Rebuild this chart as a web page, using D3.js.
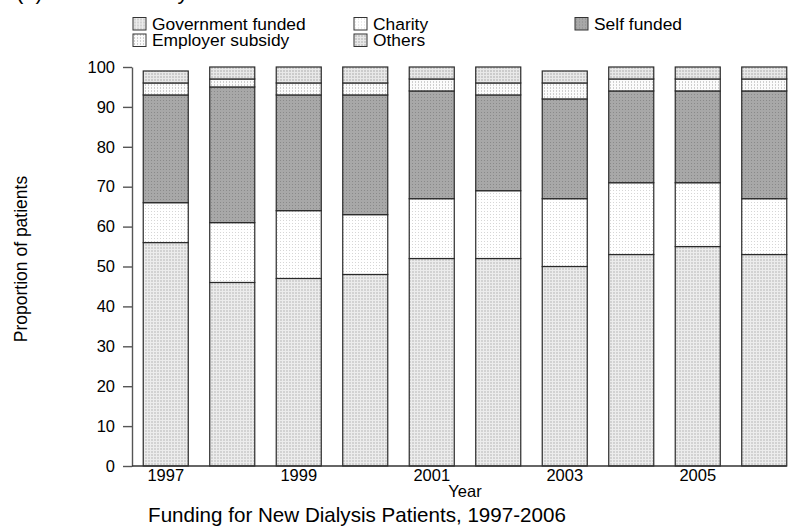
<!DOCTYPE html>
<html>
<head>
    <meta charset="utf-8">
    <title>Funding for New Dialysis Patients</title>
    <script src="https://d3js.org/d3.v7.min.js"></script>
    <style>
        body { margin: 0; background: #fff; }
        svg { display: block; font-family: "Liberation Sans", Arial, sans-serif; }
        .axis text { font-size: 16.5px; fill: #000; }
        .axis path, .axis line { stroke: #555; stroke-width: 1.4; }
        .legend text { font-size: 17.4px; }
        .bar rect { stroke: #2a2a2a; stroke-width: 1.2; }
    </style>
</head>
<body>
<script>
    // values
    var years = ["1997", "1998", "1999", "2000", "2001", "2002", "2003", "2004", "2005", "2006"];
    var government = [56, 46, 47, 48, 52, 52, 50, 53, 55, 53];
    var charity    = [10, 15, 17, 15, 15, 17, 17, 18, 16, 14];
    var selfFunded = [27, 34, 29, 30, 27, 24, 25, 23, 23, 27];
    var employer   = [3, 2, 3, 3, 3, 3, 4, 3, 3, 3];
    var others     = [3, 3, 4, 4, 3, 4, 3, 3, 3, 3];
    var yearLabels = ["1997", "1999", "2001", "2003", "2005"];
    var yTicks = [0, 10, 20, 30, 40, 50, 60, 70, 80, 90, 100];

    // stack order bottom -> top
    var keys = ["gov", "charity", "self", "employer", "others"];
    var names = {gov: "Government funded", charity: "Charity", self: "Self funded",
                 employer: "Employer subsidy", others: "Others"};
    // legend is filled column by column
    var legendOrder = ["gov", "employer", "charity", "others", "self"];

    var rows = years.map(function(y, i) {
        return {year: y, gov: government[i], charity: charity[i], self: selfFunded[i],
                employer: employer[i], others: others[i]};
    });

    var width = 790, height = 527;
    var svg = d3.select("body").append("svg")
        .attr("width", width)
        .attr("height", height);

    // fill patterns to imitate the printed textures
    var defs = svg.append("defs");
    function pattern(id, bg, draw) {
        var p = defs.append("pattern").attr("id", id)
            .attr("patternUnits", "userSpaceOnUse")
            .attr("width", 3).attr("height", 3);
        p.append("rect").attr("width", 3).attr("height", 3).attr("fill", bg);
        draw(p);
    }
    pattern("p-gov", "#d2d2d2", function(p) {
        p.append("rect").attr("x", 0).attr("y", 0).attr("width", 3).attr("height", 1).attr("fill", "#ececec");
        p.append("rect").attr("x", 0).attr("y", 0).attr("width", 1).attr("height", 3).attr("fill", "#ececec");
    });
    pattern("p-charity", "#ffffff", function(p) {
        p.append("rect").attr("x", 1).attr("y", 1).attr("width", 1).attr("height", 1).attr("fill", "#d6d6d6");
    });
    pattern("p-self", "#a8a8a8", function(p) {
        p.append("rect").attr("x", 1).attr("y", 1).attr("width", 1).attr("height", 1).attr("fill", "#8a8a8a");
    });
    pattern("p-employer", "#fbfbfb", function(p) {
        p.append("rect").attr("x", 1).attr("y", 0).attr("width", 1).attr("height", 2).attr("fill", "#cfcfcf");
    });
    pattern("p-others", "#cbcbcb", function(p) {
        p.append("rect").attr("x", 0).attr("y", 0).attr("width", 3).attr("height", 1).attr("fill", "#e8e8e8");
        p.append("rect").attr("x", 0).attr("y", 0).attr("width", 1).attr("height", 3).attr("fill", "#e8e8e8");
    });

    var x = d3.scaleBand()
        .domain(years)
        .range([132.5, 797.5])
        .paddingInner(0.323)
        .paddingOuter(0.1615);

    var y = d3.scaleLinear()
        .domain([0, 100])
        .range([466, 67]);

    var series = d3.stack().keys(keys)(rows);

    svg.selectAll(".bar")
        .data(series)
        .enter().append("g")
        .attr("class", "bar")
        .attr("fill", function(d) { return "url(#p-" + d.key + ")"; })
        .selectAll("rect")
        .data(function(d) { return d; })
        .enter().append("rect")
        .attr("x", function(d) { return x(d.data.year); })
        .attr("y", function(d) { return y(d[1]); })
        .attr("width", x.bandwidth())
        .attr("height", function(d) { return y(d[0]) - y(d[1]); });

    // y axis
    svg.append("g")
        .attr("class", "axis")
        .attr("transform", "translate(132,0)")
        .call(d3.axisLeft(y).tickValues(yTicks).tickSize(9).tickSizeOuter(0).tickPadding(8));

    // baseline under the bars
    svg.append("line")
        .attr("x1", 132).attr("x2", x(years[years.length - 1]) + x.bandwidth())
        .attr("y1", y(0)).attr("y2", y(0))
        .attr("stroke", "#333").attr("stroke-width", 1.4);

    // x axis labels
    var xAxis = svg.append("g")
        .attr("class", "axis")
        .attr("transform", "translate(0," + y(0) + ")")
        .call(d3.axisBottom(x).tickValues(yearLabels).tickSize(0).tickPadding(3.5));
    xAxis.select(".domain").remove();

    svg.append("text")
        .attr("x", 465).attr("y", 497)
        .attr("text-anchor", "middle")
        .style("font-size", "16.5px")
        .text("Year");

    svg.append("text")
        .attr("transform", "translate(27,259) rotate(-90)")
        .attr("text-anchor", "middle")
        .style("font-size", "17.5px")
        .text("Proportion of patients");

    svg.append("text")
        .attr("x", 357).attr("y", 522)
        .attr("text-anchor", "middle")
        .style("font-size", "20.6px")
        .text("Funding for New Dialysis Patients, 1997-2006");

    // panel heading, mostly cut off by the top edge
    svg.append("text")
        .attr("x", 16).attr("y", -1)
        .style("font-size", "22px")
        .text("(a) Distribution by source");

    // legend
    var colX = [133, 354, 575];
    var legend = svg.append("g").attr("class", "legend");
    var item = legend.selectAll("g")
        .data(legendOrder)
        .enter().append("g")
        .attr("transform", function(d, i) {
            return "translate(" + colX[Math.floor(i / 2)] + "," + (17.5 + (i % 2) * 16.5) + ")";
        });
    item.append("rect")
        .attr("width", 13).attr("height", 12.5)
        .attr("fill", function(d) { return "url(#p-" + d + ")"; })
        .attr("stroke", "#333").attr("stroke-width", 1);
    item.append("text")
        .attr("x", 19).attr("y", 12)
        .text(function(d) { return names[d]; });
</script>
</body>
</html>
